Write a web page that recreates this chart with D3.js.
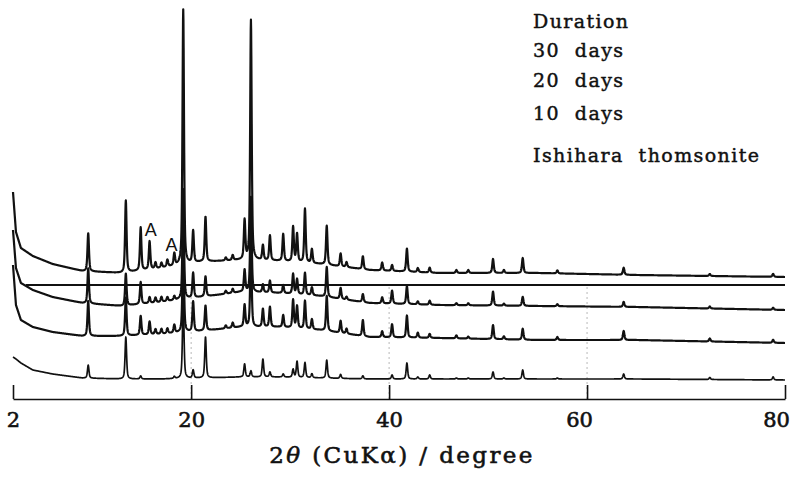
<!DOCTYPE html>
<html>
<head>
<meta charset="utf-8">
<script src="https://cdn.jsdelivr.net/npm/d3@7/dist/d3.min.js"></script>
<style>
  html, body { margin: 0; padding: 0; background: #fff; }
  svg { display: block; }
</style>
</head>
<body>
<svg id="chart" width="801" height="482"></svg>
<script>
// ---------------- data ----------------
// x-axis ticks (2θ, degree)
const xTicks = [2, 20, 40, 60, 80];

// background knots (2θ) and background level of each pattern (arbitrary intensity, stacked)
const bgTheta = [2, 2.3, 2.8, 4, 6, 9, 13, 17, 21, 25, 29, 33, 38, 45, 55, 65, 80];
const bg30   = [210, 170, 154, 146, 138, 131, 129, 134, 140, 142, 141, 138, 132, 129, 129, 127, 125];
const bg20   = [172, 134, 119, 112, 105, 99, 96, 100, 105, 110, 109, 106, 99, 97, 96, 95, 92];
const bg10   = [137, 97, 82, 75, 70, 66, 66, 68, 71, 75, 75, 72, 65, 64, 62, 62, 59];
const bgThom = [45, 43, 39, 32, 28, 24, 23, 23, 24, 25, 25, 24, 23, 23, 23, 23, 22];

// reflection positions (2θ) and peak heights of each pattern
const peakTheta = [9.6, 13.4, 14.9, 15.8, 16.4, 17.0, 17.6, 18.3, 19.2, 20.2, 21.45, 23.5, 24.2, 25.4, 26.04,
                   27.25, 27.96, 29.3, 30.3, 30.7, 31.5, 32.2, 33.7, 35.1, 35.7, 37.35, 39.3, 40.3, 41.8,
                   42.9, 44.1, 46.8, 48.0, 50.5, 51.6, 53.5, 57.0, 63.7, 72.4, 78.8];
const peaks30   = [38, 72, 43, 28, 6, 5, 7, 12, 255, 32, 45, 3, 5, 39, 240,
                   15, 25, 27, 35, 28, 54, 14, 39, 13, 5, 13, 8, 6, 23,
                   4, 5, 3, 3, 14, 3, 15, 3, 7, 2, 3];
const peaks20   = [35, 32, 22, 6, 5, 5, 4, 4, 110, 25, 20, 3, 4, 22, 95,
                   8, 12, 8, 20, 15, 22, 8, 30, 11, 3, 8, 6, 13, 18,
                   3, 4, 2, 2, 14, 2, 9, 2, 5, 2, 2];
const peaks10   = [35, 38, 19, 13, 5, 5, 5, 8, 95, 30, 25, 3, 5, 22, 80,
                   18, 20, 12, 28, 22, 28, 10, 35, 12, 5, 16, 6, 13, 22,
                   5, 4, 3, 2, 14, 3, 11, 3, 9, 3, 3];
const peaksThom = [13, 42, 3, 0, 0, 0, 0, 2, 80, 8, 41, 0, 0, 13, 6,
                   18, 5, 3, 8, 16, 15, 4, 18, 4, 0, 3, 0, 4, 16,
                   2, 4, 1, 1, 7, 1, 9, 1, 5, 2, 3];

const seriesNames = ["30 days", "20 days", "10 days", "Ishihara thomsonite"];
const legendTitle = "Duration";
// straight reference line drawn across the 20-day pattern
const refLineTheta = [3.3, 80];
const refLineLevel = 117;
// "A" (analcime) markers: 2θ and level
const markerTheta = [15.3, 17.4];
const markerLevel = [166, 151];
const markerText = ["A", "A"];

// ---------------- drawing ----------------
const W = 801, H = 482;
const svg = d3.select("#chart");
svg.append("rect").attr("width", W).attr("height", H).attr("fill", "#fff");

const x = d3.scaleLinear().domain([2, 80]).range([13, 785]);
const y = d3.scaleLinear().domain([0, 400]).range([402, 2]);

// faint dotted guides at 20, 40, 60
svg.append("g").selectAll("line").data(xTicks.slice(1, 4)).join("line")
  .attr("x1", d => x(d)).attr("x2", d => x(d))
  .attr("y1", 399).attr("y2", y(118))
  .attr("stroke", "#b8b8b8").attr("stroke-width", 1)
  .attr("stroke-dasharray", "2,3");

function profile(bgVals, heights) {
  const bg = d3.scaleLinear().domain(bgTheta).range(bgVals).clamp(true);
  const w = 0.09, eta = 0.55;
  const pts = [];
  const thetas = d3.range(2, 80.0001, 0.02);
  for (const t of thetas) {
    let v = bg(t);
    for (let i = 0; i < peakTheta.length; i++) {
      const h = heights[i];
      if (!h) continue;
      const u = (t - peakTheta[i]) / w;
      const L = 1 / (1 + u * u);
      const G = Math.exp(-Math.LN2 * u * u);
      v += h * (eta * L + (1 - eta) * G);
    }
    pts.push([t, v]);
  }
  return pts;
}

const series = [
  { name: seriesNames[0], bg: bg30, pk: peaks30, sw: 2.2 },
  { name: seriesNames[1], bg: bg20, pk: peaks20, sw: 2.2 },
  { name: seriesNames[2], bg: bg10, pk: peaks10, sw: 2.2 },
  { name: seriesNames[3], bg: bgThom, pk: peaksThom, sw: 1.7 }
];

const line = d3.line().x(d => x(d[0])).y(d => y(d[1]));

svg.append("g").selectAll("path").data(series).join("path")
  .attr("d", s => line(profile(s.bg, s.pk)))
  .attr("fill", "none")
  .attr("stroke", "#111")
  .attr("stroke-width", s => s.sw)
  .attr("stroke-linejoin", "round");

// straight reference line
svg.append("line")
  .attr("x1", x(refLineTheta[0])).attr("x2", x(refLineTheta[1]))
  .attr("y1", y(refLineLevel)).attr("y2", y(refLineLevel))
  .attr("stroke", "#111").attr("stroke-width", 1.8);

// A markers
svg.append("g").selectAll("text").data(markerText).join("text")
  .attr("x", (d, i) => x(markerTheta[i]))
  .attr("y", (d, i) => y(markerLevel[i]))
  .attr("font-family", "Liberation Sans, Arial, sans-serif")
  .attr("font-size", 18)
  .attr("fill", "#111")
  .text(d => d);

// x axis
const labelShift = { 2: 0, 20: 0, 40: 0, 60: -8, 80: -9 };
const axis = d3.axisBottom(x).tickValues(xTicks).tickSizeInner(-14).tickSizeOuter(0)
  .tickPadding(13).tickFormat(d3.format("d"));
const gx = svg.append("g").attr("transform", "translate(0,399)").call(axis);
gx.select(".domain").attr("stroke", "#111").attr("stroke-width", 1.6);
gx.selectAll(".tick line").attr("stroke", "#111").attr("stroke-width", 1.6);
gx.selectAll(".tick text")
  .attr("font-family", "DejaVu Serif, serif")
  .attr("font-size", 21)
  .attr("fill", "#111")
  .attr("stroke", "#111").attr("stroke-width", 0.6)
  .attr("dx", d => labelShift[d] || 0);

// axis title
const title = svg.append("text")
  .attr("x", 402).attr("y", 463)
  .attr("text-anchor", "middle")
  .attr("font-family", "DejaVu Serif, serif")
  .attr("font-size", 23)
  .attr("letter-spacing", 2.4)
  .attr("fill", "#111")
  .attr("stroke", "#111").attr("stroke-width", 0.6);
title.append("tspan").text("2");
title.append("tspan").attr("font-style", "italic").text("θ");
title.append("tspan").text(" (CuKα) / degree");

// legend text
const legendLines = [legendTitle].concat(seriesNames);
const legendY = [28, 57, 87, 120, 162];
svg.append("g").selectAll("text").data(legendLines).join("text")
  .attr("x", 533)
  .attr("y", (d, i) => legendY[i])
  .attr("font-family", "DejaVu Serif, serif")
  .attr("font-size", 19)
  .attr("letter-spacing", 1.4)
  .attr("fill", "#111")
  .attr("stroke", "#111").attr("stroke-width", 0.45)
  .attr("xml:space", "preserve")
  .text(d => d.replace(" ", "\u00a0\u00a0"));
</script>
</body>
</html>
